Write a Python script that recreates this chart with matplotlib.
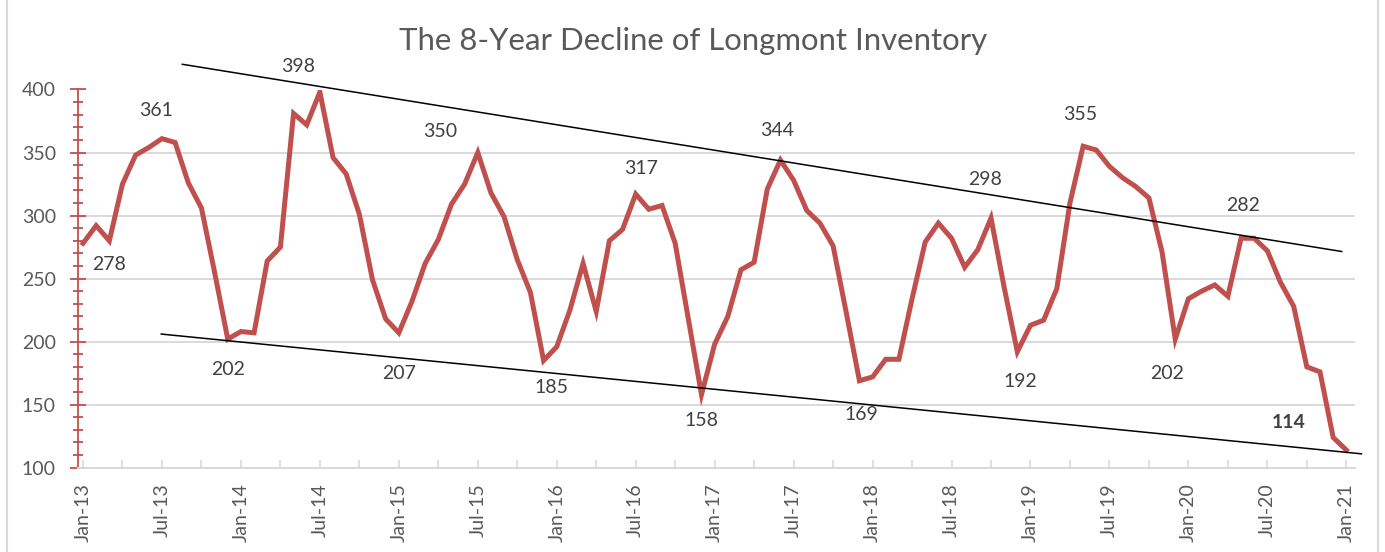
import matplotlib
matplotlib.use("Agg")
import matplotlib.pyplot as plt
from matplotlib.ticker import MultipleLocator, FixedLocator
import pandas as pd

# ---- data ----
months = pd.date_range("2013-01-01", periods=97, freq="MS")
inventory = [278, 292, 280, 325, 348, 354, 361, 358, 326, 306, 255, 202,
             208, 207, 264, 275, 381, 372, 398, 346, 333, 301, 249, 218,
             207, 232, 262, 281, 309, 325, 350, 318, 299, 265, 239, 185,
             196, 225, 262, 224, 280, 289, 317, 305, 308, 278, 218, 158,
             198, 220, 257, 263, 321, 344, 328, 304, 294, 276, 223, 169,
             172, 186, 186, 234, 279, 294, 282, 259, 273, 298, 243, 192,
             213, 217, 242, 310, 355, 352, 339, 330, 323, 314, 271, 202,
             234, 240, 245, 236, 282, 282, 272, 247, 228, 180, 176, 124,
             114]
tick_labels = ["Jan-13", "Jul-13", "Jan-14", "Jul-14", "Jan-15", "Jul-15",
               "Jan-16", "Jul-16", "Jan-17", "Jul-17", "Jan-18", "Jul-18",
               "Jan-19", "Jul-19", "Jan-20", "Jul-20", "Jan-21"]
labelled_points = [0, 6, 11, 18, 24, 30, 35, 42, 47, 53, 59, 69, 71, 76, 83, 88, 96]
# trend lines (month index, value) endpoints
upper_trend_x = [7.55, 95.65]
upper_trend_y = [420, 271.5]
lower_trend_x = [5.95, 97.15]
lower_trend_y = [206, 111]

# ---- styling / layout ----
label_offsets = {0: (26, -21), 6: (-6, 28), 11: (0, -30), 18: (-22, 26),
                 24: (0, -41), 30: (-38, 21), 35: (8, -27), 42: (5, 26),
                 47: (0, -26), 53: (-3, 30), 59: (2, -34), 69: (-6, 39),
                 71: (3, -30), 76: (-3, 32), 83: (-8, -34), 88: (2, 33),
                 96: (-58, 28)}
RED = "#C0504D"
GRAY_TXT = "#595959"
GRID = "#D9D9D9"
FONT = "Lato"

W, H = 1385, 552
fig = plt.figure(figsize=(W / 100, H / 100), dpi=100)
fig.patch.set_facecolor("white")
ax = fig.add_axes([78 / W, 1 - 467.7 / H, (1355 - 78) / W, (467.7 - 89.5) / H])

x = list(range(len(inventory)))
ax.plot(x, inventory, color=RED, lw=3.6, solid_joinstyle="miter", zorder=3)

ax.set_xlim(-0.38, 96.66)
ax.set_ylim(100, 400)

# gridlines
ax.yaxis.set_major_locator(MultipleLocator(50))
ax.yaxis.set_minor_locator(MultipleLocator(10))
ax.grid(axis="y", which="major", color=GRID, lw=1.4, zorder=0)
ax.set_axisbelow(True)

for s in ["top", "right"]:
    ax.spines[s].set_visible(False)
ax.spines["left"].set_color(RED)
ax.spines["left"].set_linewidth(1.3)
ax.spines["bottom"].set_color(GRID)
ax.spines["bottom"].set_linewidth(1.4)

ax.tick_params(axis="y", which="major", direction="inout", length=12, width=1.3,
               color=RED, labelcolor=GRAY_TXT, labelsize=14, pad=10)
ax.tick_params(axis="y", which="minor", direction="inout", length=7, width=1.3,
               color=RED)

ax.xaxis.set_major_locator(FixedLocator(x[::6]))
ax.xaxis.set_minor_locator(FixedLocator(x[3::6]))
ax.set_xticklabels(tick_labels, rotation=90, ha="center", va="top")
ax.tick_params(axis="x", which="both", direction="in", length=6, width=1.2,
               color=GRID, labelcolor=GRAY_TXT, labelsize=14, pad=11)

for lab in ax.get_xticklabels() + ax.get_yticklabels():
    lab.set_fontfamily(FONT)

# trend lines
ax.plot(upper_trend_x, upper_trend_y, color="black", lw=1.1, clip_on=False, zorder=4)
ax.plot(lower_trend_x, lower_trend_y, color="black", lw=1.1, clip_on=False, zorder=4)

# data labels
for i in labelled_points:
    dx, dy = label_offsets[i]
    ax.annotate(str(inventory[i]), (x[i], inventory[i]), xytext=(dx, dy),
                textcoords="offset pixels", ha="center", va="center",
                fontsize=14, family=FONT, color="#404040",
                fontweight="bold" if i == 96 else "normal", zorder=5)

fig.text(693 / W, 1 - 41 / H, "The 8-Year Decline of Longmont Inventory",
         ha="center", va="center", fontsize=22.4, family=FONT, color=GRAY_TXT)

# chart-area border
fig.add_artist(plt.Line2D([7 / W, 7 / W], [0, 1], color=GRID, lw=1.5))
fig.add_artist(plt.Line2D([1378 / W, 1378 / W], [0, 1], color=GRID, lw=1.5))

fig.savefig("out.png", dpi=100, facecolor="white")
